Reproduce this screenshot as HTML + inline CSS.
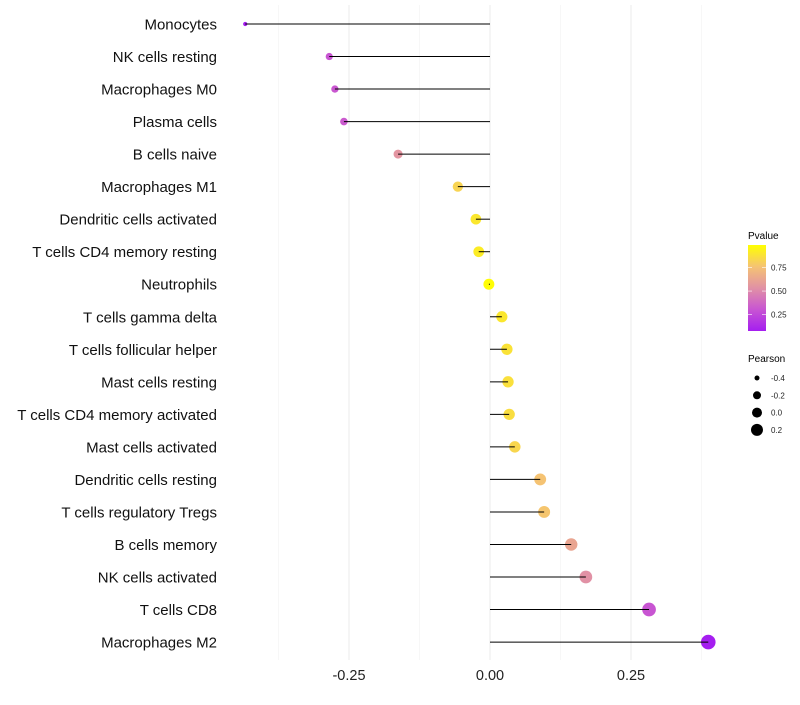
<!DOCTYPE html>
<html><head><meta charset="utf-8"><style>
body{margin:0;background:#fff;font-family:"Liberation Sans",sans-serif}
svg text{font-family:"Liberation Sans",sans-serif}
</style></head><body>
<svg id="chart" width="800" height="700">
<defs><linearGradient id="pg" x1="0" y1="1" x2="0" y2="0">
<stop offset="0" stop-color="#a51ef0"/><stop offset="0.25" stop-color="#c855d2"/><stop offset="0.5" stop-color="#e191a5"/><stop offset="0.75" stop-color="#f5c373"/><stop offset="1" stop-color="#ffff00"/></linearGradient></defs>
<g id="grid"></g>
<g id="marks"></g>
<g id="legend">
<text x="748" y="239" font-size="10">Pvalue</text>
<rect x="748" y="245" width="18" height="86" fill="url(#pg)"/>
<text x="748" y="362" font-size="10">Pearson</text>
</g>
</svg>
<script>
const cells=["Monocytes","NK cells resting","Macrophages M0","Plasma cells","B cells naive","Macrophages M1","Dendritic cells activated","T cells CD4 memory resting","Neutrophils","T cells gamma delta","T cells follicular helper","Mast cells resting","T cells CD4 memory activated","Mast cells activated","Dendritic cells resting","T cells regulatory  Tregs ","B cells memory","NK cells activated","T cells CD8","Macrophages M2"];
const pearson=[-0.434,-0.285,-0.275,-0.259,-0.163,-0.057,-0.025,-0.02,-0.002,0.021,0.030,0.032,0.034,0.044,0.089,0.096,0.144,0.170,0.282,0.387];
const pvalue=[0.05,0.25,0.26,0.27,0.52,0.82,0.9,0.92,0.99,0.9,0.88,0.87,0.86,0.83,0.75,0.76,0.6,0.5,0.25,0.05];
const xTicks=[-0.25,0,0.25];
const xTickLabels=["-0.25","0.00","0.25"];
const xMinor=[-0.375,-0.125,0.125,0.375];
const sizeLegend=[-0.4,-0.2,0.0,0.2];
const NS="http://www.w3.org/2000/svg";
const X=v=>490+v*564;
const Y=i=>24+i*32.53;
const R=v=>Math.sqrt(Math.max(4.5,4+60*(v+0.434)));
function lerp(a,b,t){return a+(b-a)*t}
const stops=[[0.05,[165,30,240]],[0.25,[200,85,210]],[0.5,[225,145,165]],[0.75,[245,195,115]],[1,[255,255,0]]];
function col(p){p=Math.max(0.05,Math.min(1,p));for(let k=0;k<stops.length-1;k++){const a=stops[k],b=stops[k+1];if(p<=b[0]){const t=(p-a[0])/(b[0]-a[0]);return `rgb(${a[1].map((c,j)=>Math.round(lerp(c,b[1][j],t))).join(",")})`}}return "rgb(255,255,0)"}
function el(t,at,par){const e=document.createElementNS(NS,t);for(const k in at)e.setAttribute(k,at[k]);par.appendChild(e);return e}
const g=document.getElementById("grid"),m=document.getElementById("marks"),lg=document.getElementById("legend");
xMinor.forEach(v=>{const l=el("line",{x1:X(v),x2:X(v),y1:5,y2:660,stroke:"#f2f2f2","stroke-width":0.6},g);

});
xTicks.forEach((v,i)=>{const l=el("line",{x1:X(v),x2:X(v),y1:5,y2:660,stroke:"#ebebeb","stroke-width":1},g);


const t=el("text",{x:X(v),y:680,"font-size":14.5,"text-anchor":"middle",fill:"#222"},g);t.textContent=xTickLabels[i];

});
cells.forEach((c,i)=>{const y=Y(i);
const t=el("text",{x:217,y:y+5.5,"font-size":15,"text-anchor":"end",fill:"#111"},m);t.textContent=c;


const d=el("circle",{cx:X(pearson[i]),cy:y,r:R(pearson[i]),fill:col(pvalue[i])},m);


const l=el("line",{x1:X(0),x2:X(pearson[i]),y1:y,y2:y,stroke:"#000","stroke-width":1},m);

});
[[0.75,"0.75"],[0.5,"0.50"],[0.25,"0.25"]].forEach(([v,s])=>{const y=245+(0.99-v)*94;
const l=el("line",{x1:748,x2:752,y1:y,y2:y,stroke:"#fff","stroke-width":0.6},lg);


const l2=el("line",{x1:762,x2:766,y1:y,y2:y,stroke:"#fff","stroke-width":0.6},lg);


const t=el("text",{x:771,y:y+3,"font-size":8,fill:"#222"},lg);t.textContent=s;

});
sizeLegend.forEach((v,i)=>{const y=378+i*17.3;
const c=el("circle",{cx:757,cy:y,r:[2.5,4,5,6][i],fill:"#000"},lg);


const t=el("text",{x:771,y:y+3,"font-size":8,fill:"#222"},lg);t.textContent=v.toFixed(1);

});
</script>
</body></html>
